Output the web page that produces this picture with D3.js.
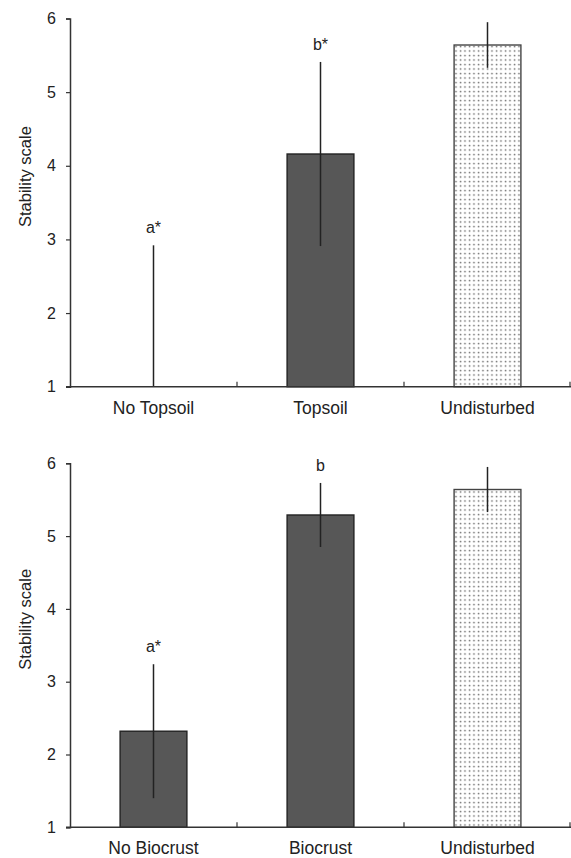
<!DOCTYPE html>
<html>
<head>
<meta charset="utf-8">
<script src="https://cdn.jsdelivr.net/npm/d3@7"></script>
<style>
  html, body { margin: 0; padding: 0; background: #fff; }
  svg { display: block; }
  text { font-family: "Liberation Sans", Arial, sans-serif; fill: #222; }
</style>
</head>
<body>
<svg id="chart" width="571" height="858"></svg>
<script>
// ---- data ----
const topCategories = ["No Topsoil", "Topsoil", "Undisturbed"];
const topMeans = [1.0, 4.16, 5.64];
const topErrors = [1.92, 1.25, 0.31];
const topLetters = ["a*", "b*", ""];

const bottomCategories = ["No Biocrust", "Biocrust", "Undisturbed"];
const bottomMeans = [2.32, 5.29, 5.64];
const bottomErrors = [0.92, 0.44, 0.31];
const bottomLetters = ["a*", "b", ""];

const yTicks = [1, 2, 3, 4, 5, 6];
const yDomain = [1, 6];
const yTitle = "Stability scale";

// ---- drawing ----
const svg = d3.select("#chart");

const defs = svg.append("defs");
const pat = defs.append("pattern")
  .attr("id", "dots")
  .attr("patternUnits", "userSpaceOnUse")
  .attr("width", 4.5).attr("height", 4.5);
pat.append("rect").attr("width", 4.5).attr("height", 4.5).attr("fill", "#fff");
pat.append("circle").attr("cx", 1.5).attr("cy", 1.5).attr("r", 0.85).attr("fill", "#6a6a6a");

function panel(cfg) {
  const { categories, means, errors, letters, x0, x1, yBottom, yTop } = cfg;
  const g = svg.append("g");

  const x = d3.scaleBand().domain(categories).range([x0, x1]).padding(0);
  const y = d3.scaleLinear().domain(yDomain).range([yBottom, yTop]);

  const data = categories.map((c, i) => ({ c, m: means[i], e: errors[i], l: letters[i] }));
  const bw = x.bandwidth() * 0.4;

  // bars
  g.selectAll("rect.bar").data(data.filter(d => d.m > yDomain[0])).join("rect")
    .attr("class", "bar")
    .attr("x", d => x(d.c) + (x.bandwidth() - bw) / 2)
    .attr("y", d => y(d.m))
    .attr("width", bw)
    .attr("height", d => y(yDomain[0]) - y(d.m))
    .attr("fill", d => d.c === "Undisturbed" ? "url(#dots)" : "#575757")
    .attr("stroke", d => d.c === "Undisturbed" ? "#444" : "#222")
    .attr("stroke-width", 1.4);

  // error bars
  g.selectAll("line.err").data(data).join("line")
    .attr("class", "err")
    .attr("x1", d => x(d.c) + x.bandwidth() / 2)
    .attr("x2", d => x(d.c) + x.bandwidth() / 2)
    .attr("y1", d => y(Math.max(yDomain[0], d.m - d.e)))
    .attr("y2", d => y(d.m + d.e))
    .attr("stroke", "#222")
    .attr("stroke-width", 1.5);

  // significance letters
  g.selectAll("text.letter").data(data.filter(d => d.l)).join("text")
    .attr("class", "letter")
    .attr("x", d => x(d.c) + x.bandwidth() / 2)
    .attr("y", d => y(d.m + d.e) - 12)
    .attr("text-anchor", "middle")
    .attr("font-size", 16)
    .text(d => d.l);

  // y axis
  const yAxis = g.append("g")
    .attr("transform", `translate(${x0},0)`)
    .call(d3.axisLeft(y).tickValues(yTicks).tickFormat(d3.format("d")).tickSize(4).tickPadding(10));
  yAxis.select(".domain").attr("stroke", "#333").attr("stroke-width", 1.5);
  yAxis.selectAll(".tick line").attr("stroke", "#333").attr("stroke-width", 1.2);
  yAxis.selectAll(".tick text").attr("font-size", 16).attr("fill", "#222")
    .attr("font-family", "Liberation Sans, Arial, sans-serif");

  // x axis
  const xAxisG = g.append("g").attr("transform", `translate(0,${yBottom})`);
  xAxisG.append("line")
    .attr("x1", x0 - 4).attr("x2", x1)
    .attr("y1", 0).attr("y2", 0)
    .attr("stroke", "#333").attr("stroke-width", 1.5);
  const boundaries = categories.map(c => x(c) + x.bandwidth());
  xAxisG.selectAll("line.xt").data(boundaries).join("line")
    .attr("class", "xt")
    .attr("x1", d => Math.min(d, x1 - 1)).attr("x2", d => Math.min(d, x1 - 1))
    .attr("y1", 0).attr("y2", -5)
    .attr("stroke", "#333").attr("stroke-width", 1.2);
  xAxisG.selectAll("text.xl").data(categories).join("text")
    .attr("class", "xl")
    .attr("x", d => x(d) + x.bandwidth() / 2)
    .attr("y", 27)
    .attr("text-anchor", "middle")
    .attr("font-size", 17.5)
    .text(d => d);

  // y title
  g.append("text")
    .attr("transform", `translate(31,${(yBottom + yTop) / 2 - 26}) rotate(-90)`)
    .attr("text-anchor", "middle")
    .attr("font-size", 16.5)
    .text(yTitle);
}

panel({ categories: topCategories, means: topMeans, errors: topErrors, letters: topLetters,
        x0: 70, x1: 571, yBottom: 386.7, yTop: 18.5 });
panel({ categories: bottomCategories, means: bottomMeans, errors: bottomErrors, letters: bottomLetters,
        x0: 70, x1: 571, yBottom: 827.3, yTop: 463.3 });
</script>
</body>
</html>
